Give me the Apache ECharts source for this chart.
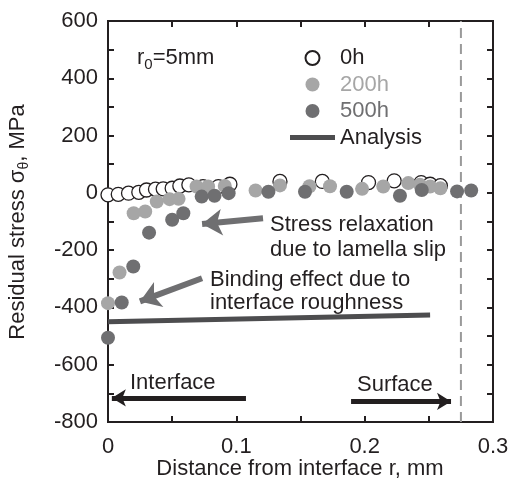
<!DOCTYPE html>
<html>
<head>
<meta charset="utf-8">
<script src="https://cdn.jsdelivr.net/npm/echarts@6/dist/echarts.min.js"></script>
<style>
html,body{margin:0;padding:0;background:#fff;}
#c{width:512px;height:496px;}
</style>
</head>
<body>
<div id="c"></div>
<script>
// ---- data ----
var r0h = [0, 0.008, 0.016, 0.024, 0.030, 0.037, 0.043, 0.050, 0.056, 0.063, 0.074, 0.086, 0.095, 0.134, 0.167, 0.203, 0.223, 0.244, 0.251, 0.259];
var s0h = [-7, -5, -1, 2, 10, 13, 14, 16, 24, 28, 22, 22, 30, 40, 40, 36, 42, 36, 30, 25];

var r200h = [0, 0.009, 0.020, 0.029, 0.038, 0.048, 0.055, 0.069, 0.078, 0.091, 0.115, 0.134, 0.157, 0.173, 0.198, 0.2145, 0.234, 0.243, 0.251, 0.259];
var s200h = [-385, -278, -71, -65, -30, -22, -21, 22, 22, 24, 8, 26, 23, 23, 14, 22, 34, 28, 22, 16];

var r500h = [0, 0.0107, 0.0197, 0.032, 0.050, 0.0587, 0.073, 0.083, 0.094, 0.125, 0.1535, 0.186, 0.2275, 0.2445, 0.272, 0.283];
var s500h = [-506, -383, -257, -139, -94, -71, -13, -10, -1, 4, 4, 4, -10, 10, 5, 8];

var rAnalysis = [0, 0.251];
var sAnalysis = [-450, -426];

var surfaceR = 0.275;

var xTicks = [0, 0.1, 0.2, 0.3];
var yTicks = [-800, -600, -400, -200, 0, 200, 400, 600];

var seriesNames = ['0h', '200h', '500h', 'Analysis'];

// annotation arrows: [tailR, tailS, tipR, tipS]
var arrowStress = [0.1208, -89, 0.0733, -109];
var arrowBinding = [0.0733, -298, 0.0249, -379];
var arrowInterface = [0.1075, -716, 0.003, -716];
var arrowSurface = [0.1894, -728, 0.2673, -728];

function pairs(xs, ys) { return xs.map(function (x, i) { return [x, ys[i]]; }); }

var FONT = '"Liberation Sans", Arial, Helvetica, sans-serif';
var INK = '#231f20';
var C200 = '#a6a6a6';
var C500 = '#6f6f71';

var chart = echarts.init(document.getElementById('c'));

function axisCommon() {
  return {
    axisLine: { show: true, onZero: false, lineStyle: { color: INK, width: 2 } },
    axisTick: { show: true, inside: true, length: 6, lineStyle: { color: INK, width: 2 } },
    minorTick: { show: true, splitNumber: 2, length: 6, lineStyle: { color: INK, width: 2 } },
    splitLine: { show: false }
  };
}

function arrowMark(a, color, width, size) {
  return {
    silent: true,
    symbol: ['none', 'arrow'],
    symbolSize: size,
    label: { show: false },
    lineStyle: { color: color, width: width, type: 'solid' },
    data: [[{ coord: [a[0], a[1]] }, { coord: [a[2], a[3]] }]],
    animation: false
  };
}

var option = {
  animation: false,
  textStyle: { fontFamily: FONT },
  grid: { left: 108, right: 19, top: 21, bottom: 74, show: true, borderColor: INK, borderWidth: 2, backgroundColor: 'transparent' },
  xAxis: [
    Object.assign(axisCommon(), {
      type: 'value', min: xTicks[0], max: xTicks[xTicks.length - 1], interval: 0.1,
      axisLabel: { fontSize: 22, color: INK, fontFamily: FONT, margin: 14,
        formatter: function (v) { return String(Math.round(v * 10) / 10); } }
    }),
    Object.assign(axisCommon(), {
      type: 'value', position: 'top', min: xTicks[0], max: xTicks[xTicks.length - 1], interval: 0.1,
      axisLabel: { show: false }
    })
  ],
  yAxis: [
    Object.assign(axisCommon(), {
      type: 'value', min: yTicks[0], max: yTicks[yTicks.length - 1], interval: 200,
      axisLabel: { fontSize: 22, color: INK, fontFamily: FONT, margin: 10 }
    }),
    Object.assign(axisCommon(), {
      type: 'value', position: 'right', min: yTicks[0], max: yTicks[yTicks.length - 1], interval: 200,
      axisLabel: { show: false }
    })
  ],
  legend: {
    orient: 'vertical', left: 285, top: 42,
    itemWidth: 45, itemHeight: 14, itemGap: 4.5,
    selectedMode: false,
    textStyle: { fontSize: 22, lineHeight: 22, fontFamily: FONT, color: INK },
    data: [
      { name: seriesNames[0], textStyle: { color: INK } },
      { name: seriesNames[1], textStyle: { color: C200 } },
      { name: seriesNames[2], textStyle: { color: C500 } },
      { name: seriesNames[3], icon: 'path://M0,0H45V5H0Z', itemStyle: { color: '#4d4d4f' }, textStyle: { color: INK } }
    ]
  },
  graphic: [
    { type: 'text', x: 300, y: 469, style: { text: 'Distance from interface r, mm', font: '22px ' + FONT, fill: INK, align: 'center', verticalAlign: 'middle' } },
    { type: 'text', x: 18, y: 222, rotation: Math.PI / 2,
      style: { text: 'Residual stress σ{sub|θ}, MPa', font: '22px ' + FONT, fill: INK, align: 'center', verticalAlign: 'middle',
        rich: { sub: { fontSize: 14, fontFamily: FONT, fill: INK, padding: [12, 0, 0, 0] } } } },
    { type: 'text', left: 137, top: 47, style: { text: 'r{sub|0}=5mm', font: '22px ' + FONT, fill: INK,
      rich: { sub: { fontSize: 15, fontFamily: FONT, fill: INK, padding: [14, 0, 0, 0] } } } },
    { type: 'text', x: 270, y: 225, style: { text: 'Stress relaxation', font: '22px ' + FONT, fill: INK, verticalAlign: 'middle' } },
    { type: 'text', x: 270, y: 250, style: { text: 'due to lamella slip', font: '22px ' + FONT, fill: INK, verticalAlign: 'middle' } },
    { type: 'text', x: 210, y: 280, style: { text: 'Binding effect due to', font: '22px ' + FONT, fill: INK, verticalAlign: 'middle' } },
    { type: 'text', x: 210, y: 303, style: { text: 'interface roughness', font: '22px ' + FONT, fill: INK, verticalAlign: 'middle' } },
    { type: 'text', x: 130, y: 383, style: { text: 'Interface', font: '22px ' + FONT, fill: INK, verticalAlign: 'middle' } },
    { type: 'text', x: 357, y: 385, style: { text: 'Surface', font: '22px ' + FONT, fill: INK, verticalAlign: 'middle' } }
  ],
  series: [
    {
      name: 'surface', type: 'line', data: [[surfaceR, yTicks[0]], [surfaceR, yTicks[yTicks.length - 1]]],
      symbol: 'none', silent: true, z: 1,
      lineStyle: { color: '#9a9a9a', width: 2, type: [10, 6] }
    },
    {
      name: seriesNames[3], type: 'line', data: pairs(rAnalysis, sAnalysis), symbol: 'none', z: 2,
      lineStyle: { color: '#4d4d4f', width: 5 }, itemStyle: { color: '#4d4d4f' }
    },
    {
      name: seriesNames[0], type: 'scatter', data: pairs(r0h, s0h), symbolSize: 14, clip: false, z: 3,
      itemStyle: { color: '#ffffff', borderColor: INK, borderWidth: 1.3, opacity: 1 }
    },
    {
      name: seriesNames[1], type: 'scatter', data: pairs(r200h, s200h), symbolSize: 14, clip: false, z: 4,
      itemStyle: { color: C200, opacity: 1 }
    },
    {
      name: seriesNames[2], type: 'scatter', data: pairs(r500h, s500h), symbolSize: 14, clip: false, z: 5,
      itemStyle: { color: C500, opacity: 1 }
    },
    {
      name: 'arrows', type: 'line', data: [], z: 6, silent: true,
      markLine: arrowMark(arrowStress, '#6f6f71', 6, [20, 20])
    },
    {
      name: 'arrows2', type: 'line', data: [], z: 6, silent: true,
      markLine: arrowMark(arrowBinding, '#6f6f71', 6, [20, 20])
    },
    {
      name: 'arrows3', type: 'line', data: [], z: 6, silent: true,
      markLine: arrowMark(arrowInterface, INK, 5, [13, 14])
    },
    {
      name: 'arrows4', type: 'line', data: [], z: 6, silent: true,
      markLine: arrowMark(arrowSurface, INK, 5, [13, 14])
    }
  ]
};
chart.setOption(option);
</script>
</body>
</html>
